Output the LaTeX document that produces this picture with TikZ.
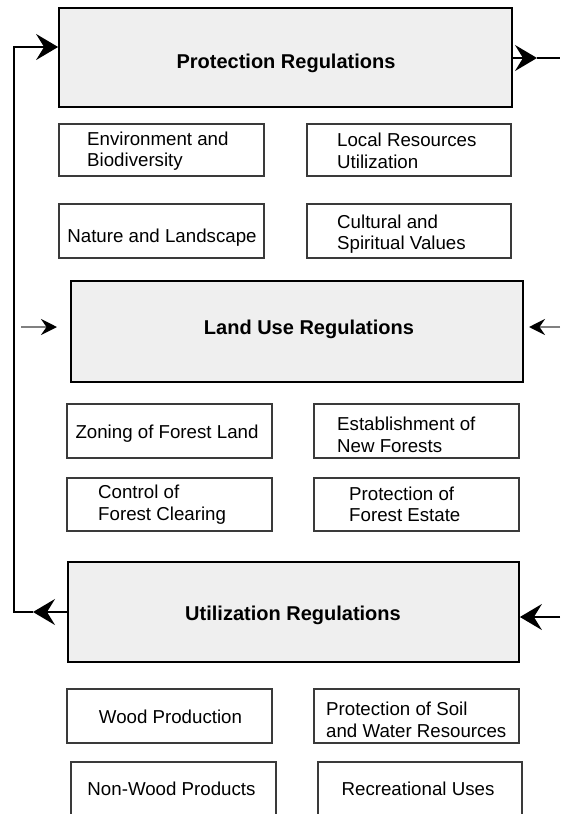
\documentclass[tikz,border=0pt]{standalone}
\usepackage{fontspec}
\setmainfont{Liberation Sans}
\usetikzlibrary{arrows.meta}
\definecolor{boxfill}{HTML}{EFEFEF}
\definecolor{subline}{HTML}{3A3A3A}
\definecolor{midgray}{HTML}{808080}
\tikzset{
  mainbox/.style={draw=black, line width=1.8pt, fill=boxfill, inner sep=0pt},
  subbox/.style={draw=subline, line width=1.1pt, fill=white, inner sep=0pt},
  titletxt/.style={inner sep=0pt, font=\bfseries\fontsize{20pt}{24pt}\selectfont},
  subtxt/.style={inner sep=0pt, align=left, font=\fontsize{18.7pt}{21.5pt}\selectfont},
  bigline/.style={line width=1.7pt, draw=black},
  bigtip/.tip={Stealth[length=22pt, width=26pt, inset=8pt]},
  smalltip/.tip={Stealth[length=16pt, width=16pt, inset=5.5pt, color=black]},
  grayline/.style={line width=2.4pt, draw=midgray},
}
\begin{document}
\begin{tikzpicture}[x=1pt, y=-1pt]
\useasboundingbox (0,0) rectangle (560,814);
\clip (0,0) rectangle (560,814);

% main boxes
\node[mainbox, minimum width=453pt, minimum height=99pt] (prot) at (285.5,57.5) {};
\node[mainbox, minimum width=452pt, minimum height=101pt] (land) at (297,331.5) {};
\node[mainbox, minimum width=451pt, minimum height=100pt] (util) at (293.5,612) {};
\node[titletxt, anchor=base] (protT) at (286,68) {Protection Regulations};
\node[titletxt, anchor=base] (landT) at (309,334) {Land Use Regulations};
\node[titletxt, anchor=base] (utilT) at (293,620) {Utilization Regulations};

% sub boxes - protection
\node[subbox, minimum width=205pt, minimum height=52pt] (env) at (161.5,150) {};
\node[subbox, minimum width=204pt, minimum height=52pt] (local) at (409,150) {};
\node[subbox, minimum width=205pt, minimum height=54pt] (nature) at (161.5,231) {};
\node[subbox, minimum width=204pt, minimum height=54pt] (cult) at (409,231) {};
\node[subtxt, anchor=west] (envT) at (87,151) {Environment and\\Biodiversity};
\node[subtxt, anchor=west] (localT) at (337,151) {Local Resources\\Utilization};
\node[subtxt, anchor=base] (natureT) at (162,242) {Nature and Landscape};
\node[subtxt, anchor=west] (cultT) at (337,234) {Cultural and\\Spiritual Values};

% sub boxes - land use
\node[subbox, minimum width=205pt, minimum height=54pt] (zoning) at (169.5,431) {};
\node[subbox, minimum width=205pt, minimum height=54pt] (estab) at (416.5,431) {};
\node[subbox, minimum width=205pt, minimum height=53pt] (control) at (169.5,504.5) {};
\node[subbox, minimum width=205pt, minimum height=53pt] (protfe) at (416.5,504.5) {};
\node[subtxt, anchor=base] (zoningT) at (167,438) {Zoning of Forest Land};
\node[subtxt, anchor=west] (estabT) at (337,435) {Establishment of\\New Forests};
\node[subtxt, anchor=west] (controlT) at (98,504.5) {Control of\\Forest Clearing};
\node[subtxt, anchor=west] (protfeT) at (349,504.5) {Protection of\\Forest Estate};

% sub boxes - utilization
\node[subbox, minimum width=205pt, minimum height=54pt] (wood) at (169.5,716) {};
\node[subbox, minimum width=205pt, minimum height=54pt] (soil) at (416.5,716) {};
\node[subbox, minimum width=205pt, minimum height=60pt] (nonwood) at (173.5,792) {};
\node[subbox, minimum width=204pt, minimum height=60pt] (recr) at (420,792) {};
\node[subtxt, anchor=base] (woodT) at (170.5,723) {Wood Production};
\node[subtxt, anchor=west] (soilT) at (326,720) {Protection of Soil\\and Water Resources};
\node[subtxt, anchor=base] (nonwoodT) at (171.5,795) {Non-Wood Products};
\node[subtxt, anchor=base] (recrT) at (418,795) {Recreational Uses};

% coordinates for connector ends
\coordinate (fbTip) at (33,612);
\coordinate (fbCorner) at (14,612);
\coordinate (fbTop) at (14,47);
\coordinate (topTip) at (537,58);
\coordinate (topR) at (560,58);
\coordinate (midLs) at (21,327);
\coordinate (midLt) at (57,327);
\coordinate (midRs) at (560,327);
\coordinate (midRt) at (529,327);
\coordinate (botR) at (560,617);

% feedback loop
\draw[bigline, -{bigtip}] (util.west) -- (fbTip);
\draw[bigline, -{bigtip}] (fbTip) -- (fbCorner) -- (fbTop) -- (prot.west |- fbTop);

% right top
\draw[bigline, -{bigtip}] (prot.east |- topTip) -- (topTip);
\draw[bigline] (topTip) -- (topR);

% middle arrows
\draw[grayline, -{smalltip}] (midLs) -- (midLt);
\draw[grayline, -{smalltip}] (midRs) -- (midRt);

% bottom right
\draw[bigline, -{bigtip}] (botR) -- (util.east |- botR);
\end{tikzpicture}
\end{document}
